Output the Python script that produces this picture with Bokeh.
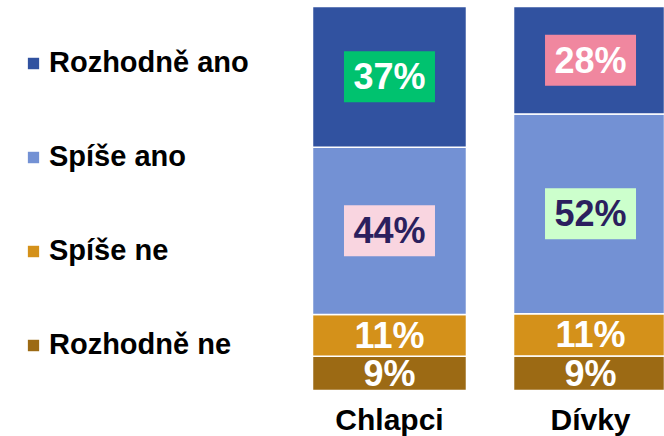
from bokeh.plotting import figure
from bokeh.models import Legend, LegendItem, Range1d
from bokeh.embed import file_html
from bokeh.resources import INLINE
from bokeh.core.properties import value
import numpy as np

# ---- data ----
groups = ["Chlapci", "Dívky"]
answers = ["Rozhodně ano", "Spíše ano", "Spíše ne", "Rozhodně ne"]  # top -> bottom
chlapci = [37, 44, 11, 9]
divky = [28, 52, 11, 9]

# ---- styles ----
seg_colors = ["#3152A0", "#7391D4", "#D4911A", "#9C6A14"]
box_colors = [["#00C26F", "#F9D5E0", None, None],
              ["#F0879F", "#CCFFCC", None, None]]
txt_colors = [["white", "#2B1F5E", "white", "white"],
              ["white", "#2B1F5E", "white", "white"]]
FONT = "Liberation Sans"

W, H = 664, 436
PX_PER_PCT = 3.84
BAR_BOTTOM_PX = 390
p = figure(width=W, height=H, output_backend="svg", toolbar_location=None,
           x_axis_type=None, y_axis_type=None, min_border=0,
           outline_line_color=None, background_fill_color="white",
           border_fill_color="white")
p.grid.visible = False
p.x_range = Range1d(-1.935, 1.368)
p.y_range = Range1d(-(H - BAR_BOTTOM_PX) / PX_PER_PCT, BAR_BOTTOM_PX / PX_PER_PCT)

# normalise each bar to 100 %
vals = np.array([chlapci, divky], dtype=float)
shares = vals / vals.sum(axis=1, keepdims=True) * 100.0
xs = np.arange(len(groups))

renderers = {}
for g, x in enumerate(xs):
    bottom = 0.0
    for k in reversed(range(len(answers))):
        top = bottom + shares[g, k]
        r = p.vbar(x=[x], bottom=[bottom], top=[top], width=0.766,
                   fill_color=seg_colors[k], line_color="white", line_width=1.5)
        renderers.setdefault(k, r)
        mid = (bottom + top) / 2
        if box_colors[g][k] is not None:
            p.rect(x=[x], y=[mid], width=91, height=51, width_units="screen",
                   height_units="screen", fill_color=box_colors[g][k], line_color=None)
        p.text(x=[x], y=[mid], text=[f"{int(vals[g, k])}%"],
               text_font=value(FONT), text_font_style="bold",
               text_font_size="36px", text_align="center",
               text_baseline="middle", text_color=txt_colors[g][k])
        bottom = top

# category labels below the bars
p.text(x=list(xs), y=[0] * len(xs), text=groups, y_offset=29,
       text_font=value(FONT), text_font_style="bold", text_font_size="30px",
       text_align="center", text_baseline="alphabetic", text_color="black")

items = [LegendItem(label=answers[k], renderers=[renderers[k]]) for k in range(len(answers))]
legend = Legend(items=items, location=(25, 75), orientation="vertical",
                glyph_width=16, glyph_height=16, label_height=30, spacing=61,
                label_standoff=8, padding=0, margin=0, border_line_color=None,
                background_fill_alpha=0, label_text_font=FONT,
                label_text_font_style="bold", label_text_font_size="29px",
                label_text_color="black")
p.add_layout(legend, "center")

open("out.html", "w").write(file_html(p, INLINE))
